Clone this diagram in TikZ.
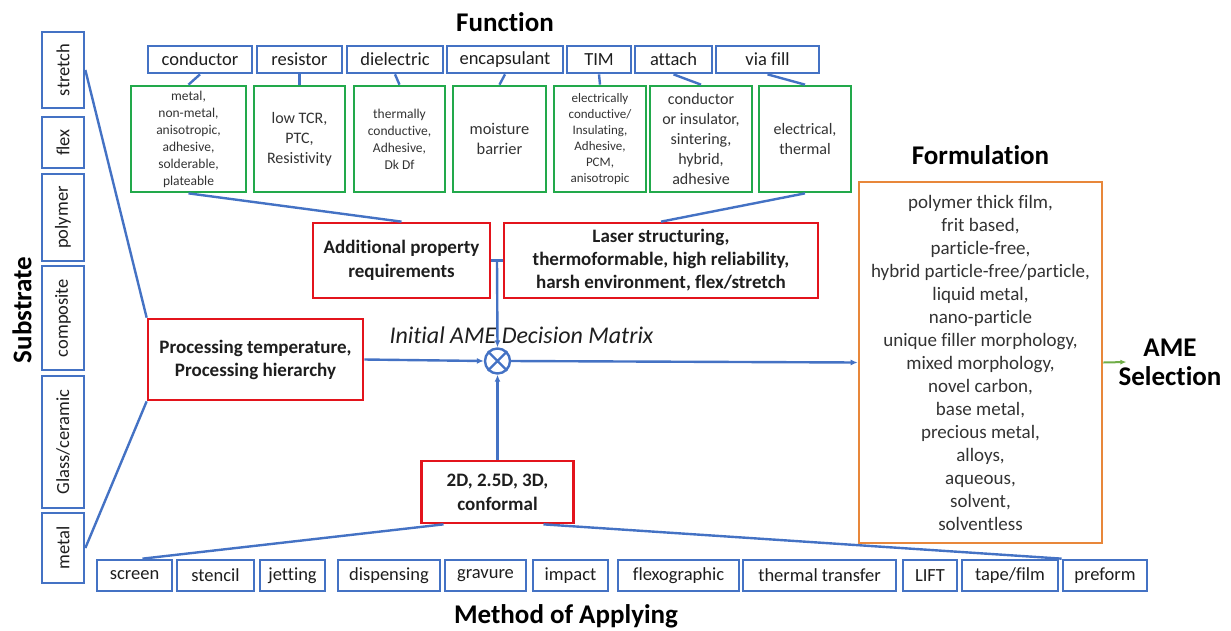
\documentclass[tikz,border=0pt]{standalone}
\usepackage{fontspec}
\setmainfont{Carlito}[Ligatures=NoCommon]
\usetikzlibrary{arrows.meta,calc}
\definecolor{bblue}{HTML}{4472C4}
\definecolor{ggreen}{HTML}{22A94B}
\definecolor{rred}{HTML}{E3141C}
\definecolor{oorange}{HTML}{E8873A}
\definecolor{txt}{HTML}{1E1E1E}
\definecolor{gtxt}{HTML}{333333}
\definecolor{arrgreen}{HTML}{70AD47}
\newcommand\fs[2]{\fontsize{#1}{#2}\selectfont}
\tikzset{
  bluebox/.style={draw=bblue, line width=2.7pt, fill=white, inner sep=0pt, text=txt, font=\fs{18.5}{22}},
  greenbox/.style={draw=ggreen, line width=2.7pt, fill=white, inner sep=0pt, align=center, text=gtxt},
  redbox/.style={draw=rred, line width=2.7pt, fill=white, inner sep=0pt, align=center, text=txt, font=\bfseries\fs{19}{24}},
  orangebox/.style={draw=oorange, line width=2.7pt, fill=white, inner sep=0pt, align=center, text=gtxt, font=\fs{19}{23}},
  conn/.style={draw=bblue, line width=2.4pt},
  arr/.style={conn, -{Latex[length=7pt,width=6pt]}},
  garr/.style={draw=arrgreen, line width=2pt, -{Latex[length=6pt,width=5pt]}},
  title/.style={font=\bfseries\fs{27}{29}, text=black, inner sep=0pt, align=center},
}
\begin{document}
\begin{tikzpicture}[x=1pt,y=-1pt]
\useasboundingbox (0,0) rectangle (1231,630);

% titles
\node[title] (tfunc) at (505,22) {Function};
\node[title] (tform) at (980.5,155) {Formulation};
\node[title, rotate=90] (tsub) at (22,310) {Substrate};
\node[title] (tmeth) at (566,616) {Method of Applying};

% substrate column
\node[bluebox, rotate=90, minimum width=76pt, minimum height=42pt] (stretch) at (63,70) {stretch};
\node[bluebox, rotate=90, minimum width=51pt, minimum height=42pt] (flex) at (63,142.5) {flex};
\node[bluebox, rotate=90, minimum width=87pt, minimum height=42pt] (polymer) at (63,217.5) {polymer};
\node[bluebox, rotate=90, minimum width=104pt, minimum height=42pt] (composite) at (63,318) {composite};
\node[bluebox, rotate=90, minimum width=132pt, minimum height=42pt] (glass) at (63,442) {Glass/ceramic};
\node[bluebox, rotate=90, minimum width=70pt, minimum height=42pt] (metal) at (63,548) {metal};

% function row
\node[bluebox, minimum width=104pt, minimum height=27pt] (fcond) at (200,59.5) {conductor};
\node[bluebox, minimum width=85pt, minimum height=27pt] (fres) at (299.5,59.5) {resistor};
\node[bluebox, minimum width=96pt, minimum height=27pt] (fdiel) at (395,59.5) {dielectric};
\node[bluebox, minimum width=116pt, minimum height=27pt] (fenc) at (505,59.5) {encapsulant};
\node[bluebox, minimum width=64pt, minimum height=27pt] (ftim) at (599,59.5) {TIM};
\node[bluebox, minimum width=77pt, minimum height=27pt] (fatt) at (673.5,59.5) {attach};
\node[bluebox, minimum width=103pt, minimum height=27pt] (fvia) at (767.5,59.5) {via fill};

% green detail boxes
\node[greenbox, minimum width=115pt, minimum height=106pt, font=\fs{13.5}{17}] (g1) at (188.5,139) {metal,\\non-metal,\\anisotropic,\\adhesive,\\solderable,\\plateable};
\node[greenbox, minimum width=91pt, minimum height=106pt, font=\fs{16}{20}] (g2) at (299.5,139) {low TCR,\\PTC,\\Resistivity};
\node[greenbox, minimum width=91pt, minimum height=106pt, font=\fs{13.5}{17}] (g3) at (399.5,139) {thermally\\conductive,\\Adhesive,\\Dk Df};
\node[greenbox, minimum width=93pt, minimum height=106pt, font=\fs{16.4}{20}] (g4) at (499.5,139) {moisture\\barrier};
\node[greenbox, minimum width=92pt, minimum height=106pt, font=\fs{13}{16}] (g5) at (600,139) {electrically\\conductive/\\Insulating,\\Adhesive,\\PCM,\\anisotropic};
\node[greenbox, minimum width=102pt, minimum height=106pt, font=\fs{16}{20}] (g6) at (701,139) {conductor\\or insulator,\\sintering,\\hybrid,\\adhesive};
\node[greenbox, minimum width=92pt, minimum height=106pt, font=\fs{16}{20}] (g7) at (805,139) {electrical,\\thermal};

\foreach \a/\b in {fcond/g1,fres/g2,fdiel/g3,fenc/g4,ftim/g5,fatt/g6,fvia/g7}
  \draw[conn] (\a.south) -- (\b.north);

% red requirement boxes
\node[redbox, minimum width=177pt, minimum height=75pt] (add) at (401.5,260.5) {Additional property\\requirements};
\node[redbox, minimum width=314pt, minimum height=75pt, font=\bfseries\fs{19}{23}] (laser) at (661,260.5) {Laser structuring,\\thermoformable, high reliability,\\harsh environment, flex/stretch};
\node[redbox, minimum width=215pt, minimum height=81pt, font=\bfseries\fs{19}{23}] (proc) at (255.5,359.5) {Processing temperature,\\Processing hierarchy};
\node[redbox, minimum width=152pt, minimum height=62pt] (twod) at (497.5,492) {2D, 2.5D, 3D,\\conformal};

% formulation
\node[orangebox, minimum width=243pt, minimum height=361pt] (form) at (980.5,362.5) {polymer thick film,\\frit based,\\particle-free,\\hybrid particle-free/particle,\\liquid metal,\\nano-particle\\unique filler morphology,\\mixed morphology,\\novel carbon,\\base metal,\\precious metal,\\alloys,\\aqueous,\\solvent,\\solventless};
\node[title] (ame) at (1170,362) {AME\\Selection};

% decision matrix junction
\node[circle, draw=bblue, line width=2.4pt, fill=white, minimum size=25pt, inner sep=0pt] (circ) at (497.5,361) {};
\draw[draw=bblue, line width=2.2pt] (circ.north east) -- (circ.south west) (circ.north west) -- (circ.south east);
\node[font=\itshape\fs{24}{28}, text=txt, anchor=base, inner sep=0pt] (idm) at (521.5,343) {Initial AME Decision Matrix};

% method row
\node[bluebox, minimum width=75pt, minimum height=31pt] (m1) at (134.5,575.5) {screen};
\node[bluebox, minimum width=77pt, minimum height=31pt] (m2) at (215.5,575.5) {stencil};
\node[bluebox, minimum width=65pt, minimum height=31pt] (m3) at (292.5,575.5) {jetting};
\node[bluebox, minimum width=102pt, minimum height=31pt] (m4) at (389,575.5) {dispensing};
\node[bluebox, minimum width=81pt, minimum height=31pt] (m5) at (485.5,575.5) {gravure};
\node[bluebox, minimum width=75pt, minimum height=31pt] (m6) at (570.5,575.5) {impact};
\node[bluebox, minimum width=121pt, minimum height=31pt] (m7) at (678.5,575.5) {flexographic};
\node[bluebox, minimum width=153pt, minimum height=31pt] (m8) at (819.5,575.5) {thermal transfer};
\node[bluebox, minimum width=54pt, minimum height=31pt] (m9) at (930,575.5) {LIFT};
\node[bluebox, minimum width=96pt, minimum height=31pt] (m10) at (1010,575.5) {tape/film};
\node[bluebox, minimum width=84pt, minimum height=31pt] (m11) at (1105,575.5) {preform};

% connectors
\draw[conn] (g1.south) -- (add.north);
\draw[conn] (g7.south) -- (laser.north);
\coordinate (j) at ($(add.east)!0.5!(laser.west)$);
\draw[conn] (add.east) -- (laser.west);
\draw[arr] (j) -- (circ.north);
\draw[conn] (stretch.south) -- (proc.north west);
\draw[conn] (metal.south) -- (proc.south west);
\draw[arr] (proc.east) -- (circ.west);
\draw[arr] (twod.north) -- (circ.south);
\draw[arr] (circ.east) -- (form.west);
\draw[garr] (form.east) -- ([xshift=8pt]ame.west);
\draw[conn] ([xshift=8pt]m1.north) -- ([xshift=-54pt]twod.south);
\draw[conn] ([xshift=46pt]twod.south) -- (m11.north west);
\end{tikzpicture}
\end{document}
